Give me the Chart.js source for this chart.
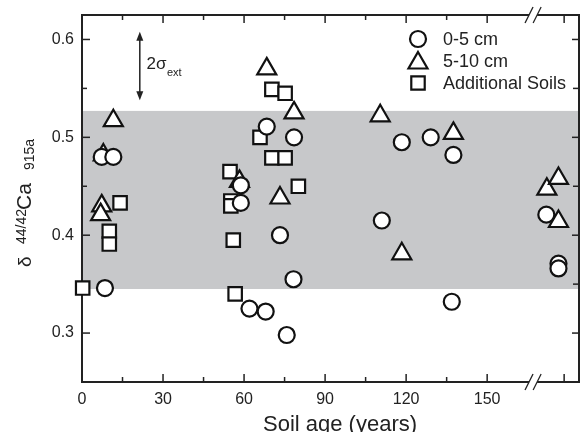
<!DOCTYPE html>
<html>
<head>
<meta charset="utf-8">
<script src="https://cdn.jsdelivr.net/npm/chart.js@4.4.1/dist/chart.umd.min.js"></script>
<style>
  html, body { margin: 0; padding: 0; background: #fff; }
</style>
</head>
<body>
<canvas id="soilChart" width="583" height="432"></canvas>
<script>
// values: soil age (years) and delta 44/42 Ca (915a)
var shallowAge = [7.3, 11.6, 8.5, 68.4, 78.5, 58.8, 58.8, 73.3, 78.3, 62.0, 68.0, 75.8, 118.4, 129.1, 137.5, 111.0, 136.9, 171.9, 176.4, 176.4];
var shallowCa  = [0.480, 0.480, 0.346, 0.511, 0.500, 0.451, 0.433, 0.400, 0.355, 0.325, 0.322, 0.298, 0.495, 0.500, 0.482, 0.415, 0.332, 0.421, 0.371, 0.366];

var deeperAge = [11.6, 7.9, 7.3, 6.9, 68.4, 78.5, 58.3, 73.3, 110.4, 137.5, 118.4, 172.1, 176.4, 176.4];
var deeperCa  = [0.517, 0.482, 0.430, 0.421, 0.570, 0.525, 0.455, 0.438, 0.522, 0.504, 0.381, 0.447, 0.458, 0.414];

var extraAge = [0.25, 14.1, 10.1, 10.1, 70.3, 75.2, 65.9, 70.3, 75.2, 54.8, 55.1, 55.1, 80.1, 56.0, 56.7];
var extraCa  = [0.346, 0.433, 0.404, 0.391, 0.549, 0.545, 0.500, 0.479, 0.479, 0.465, 0.435, 0.430, 0.450, 0.395, 0.340];

var seriesNames = ["0-5 cm", "5-10 cm", "Additional Soils"];

var xTicks = [0, 30, 60, 90, 120, 150];
var xMinorTicks = [15, 45, 75, 105, 135];
var xAfterBreakTicks = [178.5];
var yTicks = [0.3, 0.4, 0.5, 0.6];
var yMinorTicks = [0.25, 0.35, 0.45, 0.55];

var bandRange = [0.345, 0.527];      // grey band
var sigmaArrow = [21.4, 0.538, 0.608]; // x, bottom, top of the 2 sigma arrow
var breakAt = 167;

var FONT = "Arial, 'Liberation Sans', sans-serif";
var INK = "#222";

function toPoints(xs, ys) {
    return xs.map(function (x, i) { return { x: x, y: ys[i] }; });
}

var markerStyles = [
    { pointStyle: "circle", radius: 8 },
    { pointStyle: "triangle", radius: 11 },
    { pointStyle: "rect", radius: 9.5 }
];

function line(ctx, x1, y1, x2, y2) {
    ctx.beginPath();
    ctx.moveTo(x1, y1);
    ctx.lineTo(x2, y2);
    ctx.stroke();
}

// band behind everything, then the frame with inward ticks and the axis break
var backgroundPlugin = {
    id: "background",
    beforeDatasetsDraw: function (chart) {
        var ctx = chart.ctx, a = chart.chartArea;
        var xs = chart.scales.x, ys = chart.scales.y;
        ctx.save();
        var yTop = ys.getPixelForValue(bandRange[1]);
        var yBot = ys.getPixelForValue(bandRange[0]);
        ctx.fillStyle = "#c7c8ca";
        ctx.fillRect(a.left, yTop, a.right - a.left, yBot - yTop);

        ctx.strokeStyle = INK;
        ctx.lineWidth = 2;
        ctx.strokeRect(a.left, a.top, a.right - a.left, a.bottom - a.top);

        ctx.lineWidth = 1.5;
        xTicks.concat(xAfterBreakTicks).forEach(function (v) {
            var px = xs.getPixelForValue(v);
            line(ctx, px, a.bottom, px, a.bottom - 8);
            line(ctx, px, a.top, px, a.top + 8);
        });
        xMinorTicks.forEach(function (v) {
            var px = xs.getPixelForValue(v);
            line(ctx, px, a.bottom, px, a.bottom - 5);
            line(ctx, px, a.top, px, a.top + 5);
        });
        yTicks.forEach(function (v) {
            var py = ys.getPixelForValue(v);
            line(ctx, a.left, py, a.left + 8, py);
            line(ctx, a.right, py, a.right - 7, py);
        });
        yMinorTicks.forEach(function (v) {
            var py = ys.getPixelForValue(v);
            line(ctx, a.left, py, a.left + 5, py);
            line(ctx, a.right, py, a.right - 6, py);
        });

        // axis break "//" on top and bottom
        var b1 = xs.getPixelForValue(breakAt - 1.5);
        var b2 = xs.getPixelForValue(breakAt + 1.5);
        [a.top, a.bottom].forEach(function (yy) {
            ctx.fillStyle = "#fff";
            ctx.fillRect(b1, yy - 2, b2 - b1, 4);
            ctx.lineWidth = 1.3;
            line(ctx, b1 - 4, yy + 8, b1 + 4, yy - 8);
            line(ctx, b2 - 4, yy + 8, b2 + 4, yy - 8);
        });
        ctx.restore();
    }
};

// legend, 2 sigma arrow and axis titles
var annotationPlugin = {
    id: "annotations",
    afterDraw: function (chart) {
        var ctx = chart.ctx;
        var xs = chart.scales.x, ys = chart.scales.y;
        ctx.save();
        ctx.fillStyle = INK;
        ctx.strokeStyle = INK;

        // legend
        seriesNames.forEach(function (name, i) {
            var ly = 39 + i * 22;
            ctx.save();
            ctx.fillStyle = "#fff";
            ctx.strokeStyle = "#111";
            Chart.helpers.drawPoint(ctx, {
                pointStyle: markerStyles[i].pointStyle,
                radius: markerStyles[i].radius,
                rotation: 0,
                borderWidth: 2.2
            }, 418, i === 1 ? ly + 2 : ly);
            ctx.restore();
            ctx.font = "18px " + FONT;
            ctx.textAlign = "left";
            ctx.textBaseline = "middle";
            ctx.fillText(name, 443, ly + 1);
        });

        // 2 sigma arrow
        var ax = xs.getPixelForValue(sigmaArrow[0]);
        var aBot = ys.getPixelForValue(sigmaArrow[1]);
        var aTop = ys.getPixelForValue(sigmaArrow[2]);
        ctx.lineWidth = 1.5;
        line(ctx, ax, aTop + 6, ax, aBot - 6);
        ctx.beginPath();
        ctx.moveTo(ax, aTop); ctx.lineTo(ax - 3.5, aTop + 9); ctx.lineTo(ax + 3.5, aTop + 9); ctx.closePath();
        ctx.fill();
        ctx.beginPath();
        ctx.moveTo(ax, aBot); ctx.lineTo(ax - 3.5, aBot - 9); ctx.lineTo(ax + 3.5, aBot - 9); ctx.closePath();
        ctx.fill();

        ctx.textAlign = "left";
        ctx.textBaseline = "alphabetic";
        ctx.font = "17px " + FONT;
        ctx.fillText("2\u03c3", 146.5, 68.5);
        ctx.font = "11px " + FONT;
        ctx.fillText("ext", 167, 76);

        // x title
        ctx.font = "22px " + FONT;
        ctx.textAlign = "center";
        ctx.fillText("Soil age (years)", 340, 430.5);

        // y title, rotated
        ctx.translate(31, 267);
        ctx.rotate(-Math.PI / 2);
        ctx.textAlign = "left";
        ctx.font = "19px " + FONT;
        ctx.fillText("\u03b4", 0, 0);
        ctx.font = "14px " + FONT;
        ctx.fillText("44/42", 23, -5);
        ctx.font = "21px " + FONT;
        ctx.fillText("Ca", 57, 0);
        ctx.font = "14px " + FONT;
        ctx.fillText("915a", 97, 3);
        ctx.restore();
    }
};

function makeDataset(label, xs, ys, style) {
    return {
        label: label,
        data: toPoints(xs, ys),
        pointStyle: style.pointStyle,
        pointRadius: style.radius,
        pointHoverRadius: style.radius,
        pointBackgroundColor: "#fff",
        pointBorderColor: "#111",
        pointBorderWidth: 2.2,
        showLine: false,
        clip: false
    };
}

var soilChart = new Chart(document.getElementById("soilChart").getContext("2d"), {
    type: "scatter",
    data: {
        datasets: [
            makeDataset(seriesNames[0], shallowAge, shallowCa, markerStyles[0]),
            makeDataset(seriesNames[1], deeperAge, deeperCa, markerStyles[1]),
            makeDataset(seriesNames[2], extraAge, extraCa, markerStyles[2])
        ]
    },
    options: {
        responsive: false,
        animation: false,
        devicePixelRatio: 1,
        layout: { autoPadding: false, padding: { left: 0, right: 4, top: 15, bottom: 0 } },
        plugins: {
            legend: { display: false },
            tooltip: { enabled: false }
        },
        scales: {
            x: {
                type: "linear",
                min: 0,
                max: 184,
                grid: { display: false },
                border: { display: false },
                afterBuildTicks: function (scale) {
                    scale.ticks = xTicks.map(function (v) { return { value: v }; });
                },
                afterFit: function (scale) {
                    scale.height = 50;
                    scale.paddingLeft = 0;
                    scale.paddingRight = 0;
                },
                ticks: {
                    padding: 0,
                    color: INK,
                    font: { family: FONT, size: 16 },
                    maxRotation: 0,
                    callback: function (v) { return String(v); }
                }
            },
            y: {
                type: "linear",
                min: 0.25,
                max: 0.625,
                grid: { display: false },
                border: { display: false },
                afterBuildTicks: function (scale) {
                    scale.ticks = yTicks.map(function (v) { return { value: v }; });
                },
                afterFit: function (scale) {
                    scale.width = 82;
                    scale.paddingTop = 0;
                    scale.paddingBottom = 0;
                },
                ticks: {
                    padding: 0,
                    color: INK,
                    font: { family: FONT, size: 16 },
                    callback: function (v) { return v.toFixed(1); }
                }
            }
        }
    },
    plugins: [backgroundPlugin, annotationPlugin]
});
</script>
</body>
</html>
